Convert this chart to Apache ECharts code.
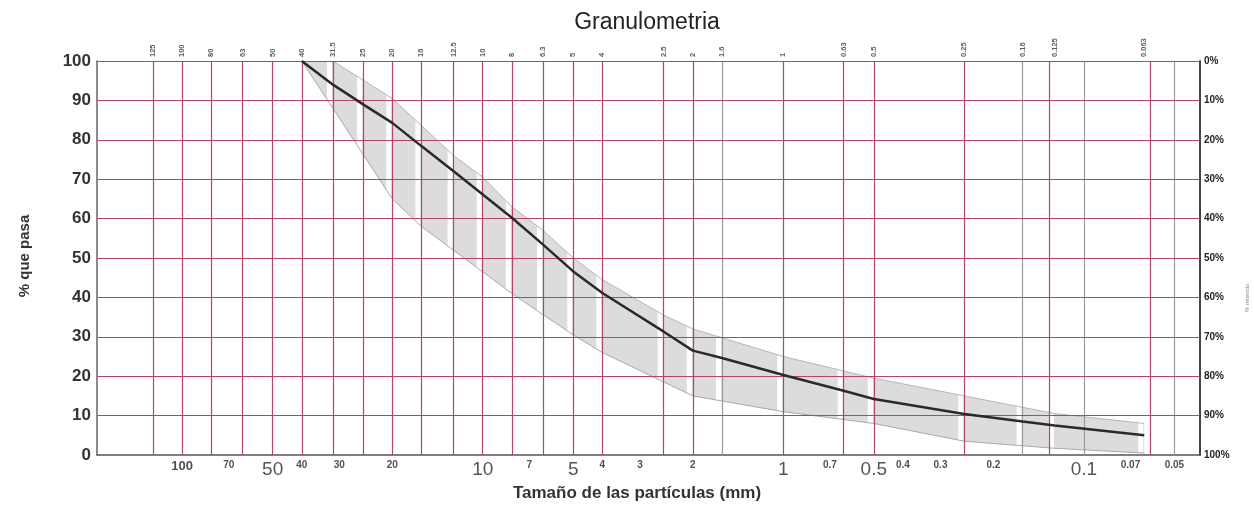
<!DOCTYPE html>
<html><head><meta charset="utf-8">
<script src="https://cdn.jsdelivr.net/npm/echarts@6/dist/echarts.min.js"></script>
<style>html,body{margin:0;padding:0;background:#fff}#c{width:1254px;height:508px}</style>
</head><body><div id="c"></div>
<script>
// ---- data ----
const sieveSizes  = [125,100,80,63,50,40,31.5,25,20,16,12.5,10,8,6.3,5,4,2.5,2,1.6,1,0.63,0.5,0.25,0.16,0.125,0.063];
const sieveLabels = ['125','100','80','63','50','40','31.5','25','20','16','12.5','10','8','6.3','5','4','2.5','2','1.6','1','0.63','0.5','0.25','0.16','0.125','0.063'];
const extraGridSizes = [0.1, 0.05];
const greyGridSizes = [1.6, 0.16, 0.1, 0.05];
const bottomTicks = [100,70,50,40,30,20,10,7,5,4,3,2,1,0.7,0.5,0.4,0.3,0.2,0.1,0.07,0.05];
const bottomTickLabels = ['100','70','50','40','30','20','10','7','5','4','3','2','1','0.7','0.5','0.4','0.3','0.2','0.1','0.07','0.05'];
const bigBottomTicks = [50,10,5,1,0.5,0.1];
const curveSizes   = [40,31.5,25,20,16,12.5,10,8,6.3,5,4,2.5,2,1.6,1,0.63,0.5,0.25,0.16,0.125,0.063];
const curvePassing = [100,94,89,84.3,78.4,72,66.1,60.2,53.4,46.6,41.1,31.3,26.5,24.6,20.3,16.3,14.2,10.4,8.5,7.5,5];
const upperSizes   = [31.5,20,12.5,10,8,6.3,5,4,2.5,2,1,0.5,0.25,0.125,0.063];
const upperPassing = [100,90.5,76,70.5,63,57,50,44.5,35.5,32,25,19.5,15,10.5,8];
const lowerSizes   = [40,31.5,20,16,10,8,6.3,5,4,2,1,0.5,0.25,0.125,0.063];
const lowerPassing = [100,88,65,58,46.5,41,35.6,30.5,26,15,11,8,3.5,1.7,0.5];
const hGridValues  = [10,20,30,40,50,60,70,80,90,100];

// ---- chart ----
const FONT = 'Liberation Sans, Arial, sans-serif';
const RED = '#b5436c';
const chart = echarts.init(document.getElementById('c'), null, {renderer:'canvas'});

const vLines = sieveSizes.concat(extraGridSizes).map(s => ({
  xAxis: s,
  lineStyle: {color: greyGridSizes.includes(s) ? '#9a9a9a' : RED, width: 1.2, type: 'solid'}
}));
const hLines = hGridValues.map(v => ({yAxis: v, lineStyle: {color: RED, width: 1.2, type: 'solid'}}));

const option = {
  animation: false,
  backgroundColor: '#fff',
  title: {
    text: 'Granulometria', left: 642, top: 6, textAlign: 'center',
    textStyle: {fontSize: 23, fontWeight: 'normal', color: '#222', fontFamily: FONT}
  },
  grid: {left: 97, right: 54, top: 61, bottom: 53, containLabel: false},
  xAxis: {
    type: 'log', logBase: 10, min: 0.0411, max: 192, inverse: true,
    axisLine: {show: true, lineStyle: {color: '#555', width: 1.5}},
    axisTick: {show: false}, axisLabel: {show: false}, splitLine: {show: false}, minorSplitLine: {show: false}
  },
  yAxis: [{
    type: 'value', min: 0, max: 100, interval: 10, position: 'left',
    axisLine: {show: true, lineStyle: {color: '#666', width: 1.5}},
    axisTick: {show: false},
    axisLabel: {fontSize: 17, fontWeight: 'bold', color: '#333', fontFamily: FONT, margin: 6},
    splitLine: {show: false}
  }, {
    type: 'value', min: 0, max: 100, interval: 10, position: 'right', inverse: true,
    axisLine: {show: true, lineStyle: {color: '#444', width: 2}},
    axisTick: {show: false},
    axisLabel: {fontSize: 10, fontWeight: 'bold', color: '#222', fontFamily: FONT, margin: 4, formatter: '{value}%'},
    splitLine: {show: false}
  }],
  graphic: [
    {type: 'text', x: 637, y: 493, style: {text: 'Tamaño de las partículas (mm)', font: 'bold 17px ' + FONT, fill: '#333', textAlign: 'center', textVerticalAlign: 'middle'}},
    {type: 'text', x: 25, y: 256, rotation: Math.PI / 2, style: {text: '% que pasa', font: 'bold 15px ' + FONT, fill: '#333', textAlign: 'center', textVerticalAlign: 'middle'}},
    {type: 'text', x: 1247, y: 298, rotation: Math.PI / 2, style: {text: '% retenido', font: '6px ' + FONT, fill: '#888', textAlign: 'center', textVerticalAlign: 'middle'}}
  ],
  series: [
    { // band fill
      type: 'custom', z: 1, silent: true, data: [[1, 50]],
      renderItem: function (params, api) {
        const pts = [];
        upperSizes.forEach((s, i) => pts.push(api.coord([s, upperPassing[i]])));
        for (let i = lowerSizes.length - 1; i >= 0; i--) pts.push(api.coord([lowerSizes[i], lowerPassing[i]]));
        return {type: 'polygon', shape: {points: pts}, style: {fill: '#dcdcdc', stroke: null}};
      }
    },
    { // white gaps left of each grid line (visible only over the band)
      type: 'custom', z: 2, silent: true,
      data: sieveSizes.map(s => [s, 0]),
      renderItem: function (params, api) {
        const top = api.coord([api.value(0), 100]);
        const bot = api.coord([api.value(0), 0]);
        return {type: 'rect', shape: {x: top[0] - 6, y: top[1] + 1, width: 5, height: bot[1] - top[1] - 3}, style: {fill: '#fff'}};
      }
    },
    { // grid lines
      type: 'line', z: 3, silent: true, data: [], symbol: 'none',
      markLine: {silent: true, symbol: ['none', 'none'], label: {show: false}, animation: false, data: vLines.concat(hLines)}
    },
    { type: 'line', z: 4, silent: true, symbol: 'none', data: upperSizes.map((s, i) => [s, upperPassing[i]]), lineStyle: {color: '#b5b5b5', width: 1} },
    { type: 'line', z: 4, silent: true, symbol: 'none', data: lowerSizes.map((s, i) => [s, lowerPassing[i]]), lineStyle: {color: '#a8a8a8', width: 1} },
    { type: 'line', z: 5, silent: true, symbol: 'none', data: curveSizes.map((s, i) => [s, curvePassing[i]]), lineStyle: {color: '#2a2a2a', width: 2.5} },
    { // top sieve labels
      type: 'scatter', z: 6, silent: true, symbolSize: 0, clip: false,
      data: sieveSizes.map((s, i) => ({name: sieveLabels[i], value: [s, 100]})),
      label: {show: true, position: 'top', distance: 4, rotate: 90, align: 'left', verticalAlign: 'middle', formatter: '{b}', fontSize: 7.5, fontWeight: 'bold', color: '#333', fontFamily: FONT}
    },
    { // bottom size labels
      type: 'scatter', z: 6, silent: true, symbolSize: 0, clip: false,
      data: bottomTicks.map((s, i) => {
        const big = bigBottomTicks.includes(s);
        const mid = s === 100;
        return {name: bottomTickLabels[i], value: [s, 0], label: {
          fontSize: big ? 19 : (mid ? 13 : 10), fontWeight: big ? 'normal' : 'bold', color: big ? '#2a2a2a' : '#222'
        }};
      }),
      label: {show: true, position: 'bottom', distance: 5, formatter: '{b}', fontFamily: FONT}
    }
  ]
};
chart.setOption(option);
</script></body></html>
